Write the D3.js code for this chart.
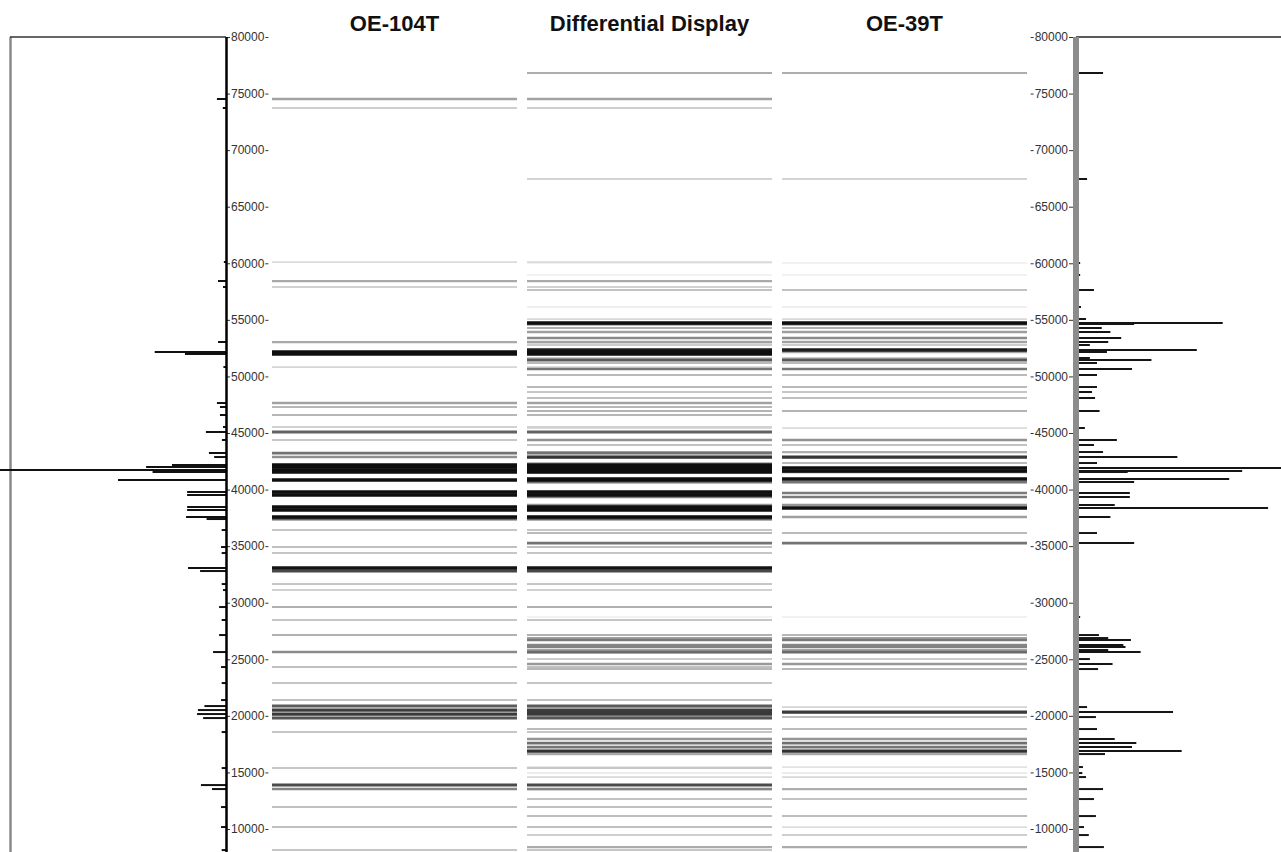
<!DOCTYPE html>
<html>
<head>
<meta charset="utf-8">
<script src="https://cdn.jsdelivr.net/npm/d3@7"></script>
<style>
  html, body { margin: 0; padding: 0; background: #fff; }
  svg { display: block; }
</style>
</head>
<body>
<svg id="chart" width="1281" height="852"></svg>
<script>
// Lanes of the virtual gel
const lanes = ["OE-104T", "Differential Display", "OE-39T"];

// Mass axis ticks (Da)
const massTicks = d3.range(10000, 80001, 5000);

// OE-104T spectrum peaks: m/z (Da) and relative intensity
const leftMass = [74520, 73724, 60112, 58433, 57902, 53041, 52157, 51980, 50831, 47649,
  47296, 46589, 45528, 45086, 44379, 43230, 42876, 42169, 41992, 41727,
  41550, 40843, 39783, 39518, 38457, 38192, 37573, 37396, 36424, 34921,
  34391, 33065, 32800, 31650, 31120, 29618, 28470, 27143, 25640, 24314,
  22900, 21397, 20867, 20513, 20160, 19806, 18569, 15387, 13884, 13530,
  11940, 10172, 8137];
const leftInt = [4.2, 1.5, 1.0, 3.7, 1.4, 3.7, 33, 19, 1.2, 4.2,
  2.8, 2.8, 1.4, 9.3, 1.9, 7.9, 5.5, 25, 37, 105,
  34, 50, 18, 18, 18, 18, 18.5, 9, 2, 2.3,
  2, 17.6, 12, 2, 1.4, 3.2, 2, 3.2, 6, 2.3,
  2, 2.3, 10, 13, 13.4, 10.6, 2, 2, 11.6, 6.5,
  2.3, 2.3, 2];

// OE-39T spectrum peaks: m/z (Da) and relative intensity
const rightMass = [76818, 67449, 60024, 58963, 57637, 56135, 55074, 54720, 54632, 54278,
  53925, 53395, 53041, 52776, 52334, 52157, 51627, 51450, 51185, 50654,
  50124, 49063, 48622, 48092, 46943, 45440, 44379, 43938, 43318, 42876,
  42346, 41904, 41639, 41550, 40931, 40666, 39694, 39341, 38633, 38368,
  37573, 36159, 35276, 28735, 27143, 26878, 26702, 26260, 26082, 25817,
  25640, 25022, 24580, 24138, 20779, 20337, 19894, 18834, 17951, 17597,
  17243, 16890, 16624, 15475, 14945, 14591, 13530, 12647, 11144, 10172,
  9465, 8403];
const rightInt = [11.6, 4.2, 1, 1, 7.4, 1.4, 3.7, 67, 26, 11,
  15, 20, 14, 5.5, 55, 13.4, 5.5, 34, 8.8, 25,
  8.8, 8.8, 6.5, 7.9, 10, 3.2, 18, 7.4, 11.6, 46,
  8.8, 100, 76, 23, 70, 26, 24, 24, 17, 88,
  15, 8.8, 26, 1, 9.7, 14, 24.5, 21, 22, 14,
  29, 5.5, 16, 9.3, 4.2, 44, 8.3, 8.8, 17, 27,
  25, 48, 12.5, 2.3, 2, 3.7, 11.6, 7.4, 8.3, 2.8,
  5, 12];

const leftPeaks = leftMass.map((m, i) => ({ mass: m, int: leftInt[i] }));
const rightPeaks = rightMass.map((m, i) => ({ mass: m, int: rightInt[i] }));

const svg = d3.select("#chart");
const FONT = "'Liberation Sans', Arial, sans-serif";

// Scales
const y = d3.scaleLinear().domain([10000, 80000]).range([829, 37]);
const laneX = d3.scaleBand().domain(lanes).range([272, 1027]).paddingInner(10 / 255).paddingOuter(0);
const leftX = d3.scaleLinear().domain([0, 100]).range([226, 10]);
const rightX = d3.scaleLinear().domain([0, 100]).range([1078, 1294]);

// Band darkness: each lane normalised to its own saturation level
const leftDark = p => Math.min(1, Math.sqrt(p.int / 18));
const rightDark = p => Math.min(1, Math.sqrt(p.int / 60));
const grey = d => { const g = Math.round(255 * (1 - 0.94 * Math.pow(d, 1.3))); return `rgb(${g},${g},${g})`; };
const thick = d => 1.2 + 2.3 * d;

// Gel lanes
function drawLane(name, bands) {
  const g = svg.append("g").attr("class", "lane");
  bands.sort((a, b) => a.d - b.d);
  g.selectAll("line").data(bands).join("line")
    .attr("x1", laneX(name)).attr("x2", laneX(name) + laneX.bandwidth())
    .attr("y1", b => y(b.mass)).attr("y2", b => y(b.mass))
    .attr("stroke", b => grey(b.d))
    .attr("stroke-width", b => thick(b.d));
}
const lBands = leftPeaks.map(p => ({ mass: p.mass, d: leftDark(p) }));
const rBands = rightPeaks.map(p => ({ mass: p.mass, d: rightDark(p) }));
drawLane(lanes[0], lBands.slice());
drawLane(lanes[1], lBands.concat(rBands));
drawLane(lanes[2], rBands.slice());

// Lane titles
svg.append("g").selectAll("text").data(lanes).join("text")
  .attr("x", d => laneX(d) + laneX.bandwidth() / 2)
  .attr("y", 31)
  .attr("text-anchor", "middle")
  .attr("font-family", FONT).attr("font-weight", "bold").attr("font-size", 22)
  .attr("fill", "#111")
  .text(d => d);

// Left spectrum frame
svg.append("line").attr("x1", 10.5).attr("x2", 10.5).attr("y1", 37).attr("y2", 852)
  .attr("stroke", "#8a8a8a").attr("stroke-width", 2.5);
svg.append("line").attr("x1", 10).attr("x2", 226).attr("y1", 37).attr("y2", 37)
  .attr("stroke", "#333").attr("stroke-width", 1.5);

// Left spectrum peaks
svg.append("g").selectAll("line").data(leftPeaks).join("line")
  .attr("x1", leftX(0)).attr("x2", p => leftX(p.int))
  .attr("y1", p => y(p.mass)).attr("y2", p => y(p.mass))
  .attr("stroke", "#111").attr("stroke-width", 2);

// Right spectrum frame and peaks
svg.append("line").attr("x1", 1076).attr("x2", 1281).attr("y1", 37).attr("y2", 37)
  .attr("stroke", "#222").attr("stroke-width", 1.5);
svg.append("g").selectAll("line").data(rightPeaks).join("line")
  .attr("x1", rightX(0)).attr("x2", p => rightX(p.int))
  .attr("y1", p => y(p.mass)).attr("y2", p => y(p.mass))
  .attr("stroke", "#151515").attr("stroke-width", 2);

// Left mass axis
const leftAxis = svg.append("g").attr("transform", "translate(226,0)")
  .call(d3.axisRight(y).tickValues(massTicks).tickSize(4).tickPadding(1).tickFormat(d3.format("d")));
leftAxis.select(".domain").remove();
leftAxis.selectAll(".tick line").attr("stroke", "#333").attr("stroke-width", 1);
leftAxis.selectAll(".tick text").attr("font-family", FONT).attr("font-size", 12).attr("fill", "#333");
leftAxis.selectAll(".tick").each(function () {
  const t = d3.select(this);
  const w = t.select("text").node().getComputedTextLength();
  t.append("line").attr("x1", 6 + w).attr("x2", 9 + w).attr("y1", 0).attr("y2", 0)
    .attr("stroke", "#333").attr("stroke-width", 1);
});
svg.append("line").attr("x1", 226.5).attr("x2", 226.5).attr("y1", 37).attr("y2", 852)
  .attr("stroke", "#000").attr("stroke-width", 2.5);

// Right mass axis
const rightAxis = svg.append("g").attr("transform", "translate(1073,0)")
  .call(d3.axisLeft(y).tickValues(massTicks).tickSize(4).tickPadding(1).tickFormat(d3.format("d")));
rightAxis.select(".domain").remove();
rightAxis.selectAll(".tick line").attr("stroke", "#333").attr("stroke-width", 1);
rightAxis.selectAll(".tick text").attr("font-family", FONT).attr("font-size", 12).attr("fill", "#333");
rightAxis.selectAll(".tick").each(function () {
  const t = d3.select(this);
  const w = t.select("text").node().getComputedTextLength();
  t.append("line").attr("x1", -6 - w).attr("x2", -9 - w).attr("y1", 0).attr("y2", 0)
    .attr("stroke", "#333").attr("stroke-width", 1);
});
svg.append("rect").attr("x", 1073).attr("y", 37).attr("width", 6).attr("height", 815)
  .attr("fill", "#8c8c8c");
</script>
</body>
</html>
